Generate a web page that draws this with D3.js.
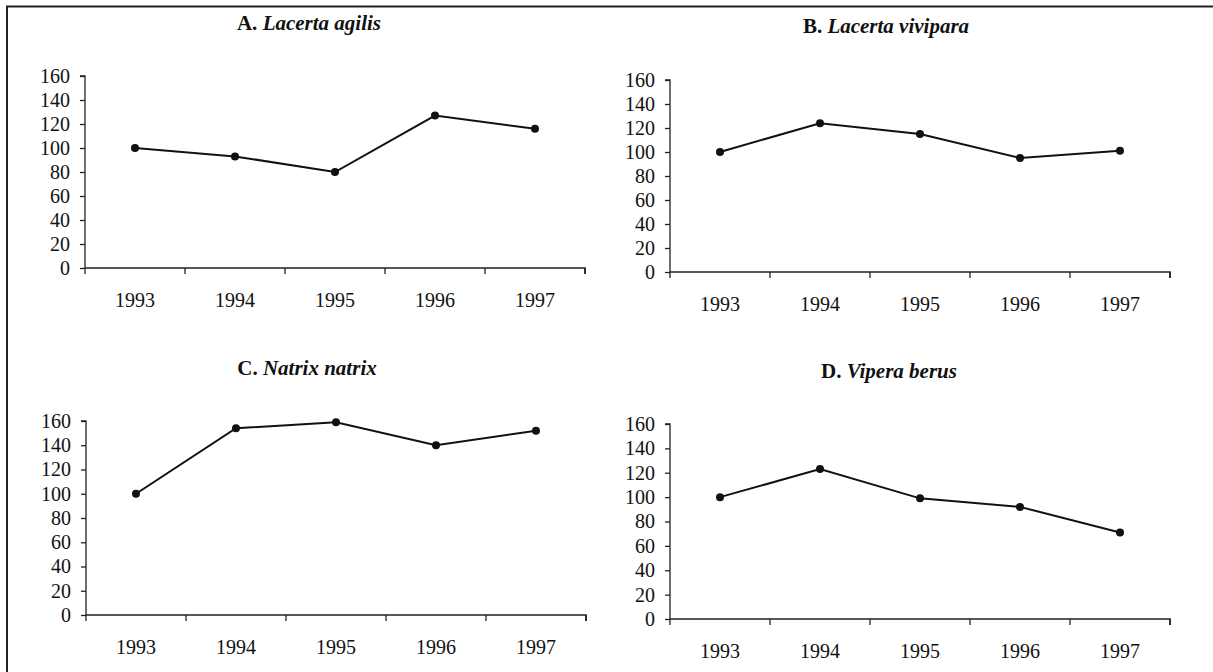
<!DOCTYPE html>
<html>
<head>
<meta charset="utf-8">
<script src="https://cdn.jsdelivr.net/npm/d3@7"></script>
<style>
  html, body { margin: 0; padding: 0; background: #fff; }
  svg { display: block; }
  text { font-family: "Liberation Serif", "Times New Roman", serif; fill: #111; }
</style>
</head>
<body>
<svg id="chart" width="1213" height="672"></svg>
<script>
// ---- data ----
const years = ["1993", "1994", "1995", "1996", "1997"];
const yTicks = [0, 20, 40, 60, 80, 100, 120, 140, 160];
const panelLetters = ["A.", "B.", "C.", "D."];
const species = ["Lacerta agilis", "Lacerta vivipara", "Natrix natrix", "Vipera berus"];
const lacertaAgilis = [100, 93, 80, 127, 116];
const lacertaVivipara = [100, 124, 115, 95, 101];
const natrixNatrix = [100, 154, 159, 140, 152];
const viperaBerus = [100, 123, 99, 92, 71];
const seriesValues = [lacertaAgilis, lacertaVivipara, natrixNatrix, viperaBerus];

// ---- layout ----
const layout = [
  { x0: 85,  x1: 585,  yTop: 76,  yBot: 268, tx: 309, ty: 30 },
  { x0: 670, x1: 1170, yTop: 80,  yBot: 272, tx: 886, ty: 33 },
  { x0: 86,  x1: 586,  yTop: 421, yBot: 615, tx: 307, ty: 375 },
  { x0: 670, x1: 1170, yTop: 424, yBot: 619, tx: 889, ty: 378 }
];
const FONT = '"Liberation Serif", "Times New Roman", serif';

const svg = d3.select("#chart");

// outer frame (left and top edges visible)
svg.append("rect")
  .attr("x", 7).attr("y", 6.5)
  .attr("width", 1260).attr("height", 720)
  .attr("fill", "none").attr("stroke", "#222").attr("stroke-width", 2);

layout.forEach((L, i) => {
  const g = svg.append("g");
  const x = d3.scaleBand().domain(years).range([L.x0, L.x1]);
  const y = d3.scaleLinear().domain([0, 160]).range([L.yBot, L.yTop]);

  // title
  const t = g.append("text")
    .attr("x", L.tx).attr("y", L.ty)
    .attr("text-anchor", "middle")
    .attr("font-size", 21).attr("font-weight", "bold");
  t.append("tspan").text(panelLetters[i] + " ");
  t.append("tspan").attr("font-style", "italic").text(species[i]);

  // y axis
  const yAxis = d3.axisLeft(y).tickValues(yTicks).tickSize(5).tickPadding(10).tickFormat(d3.format("d"));
  const yg = g.append("g").attr("transform", `translate(${L.x0},0)`).call(yAxis);
  yg.attr("font-family", FONT);
  yg.select(".domain").attr("stroke", "#222").attr("stroke-width", 1.3).attr("d", `M-5,${L.yTop}H0V${L.yBot}`);
  yg.selectAll(".tick line").attr("stroke", "#222").attr("stroke-width", 1.3);
  yg.selectAll(".tick text").attr("font-size", 20).style("font-family", FONT).attr("fill", "#111");

  // x axis
  const xAxis = d3.axisBottom(x).tickSize(0).tickPadding(25);
  const xg = g.append("g").attr("transform", `translate(0,${L.yBot})`).call(xAxis);
  xg.attr("font-family", FONT);
  xg.select(".domain").attr("stroke", "#222").attr("stroke-width", 1.7).attr("d", `M${L.x0},0H${L.x1}V6`);
  xg.selectAll(".tick text").attr("font-size", 20).style("font-family", FONT).attr("fill", "#111");
  // band boundary ticks
  const bounds = years.map(d => x(d)).concat([L.x1]);
  xg.selectAll(".bnd").data(bounds).enter().append("line")
    .attr("x1", d => d).attr("x2", d => d)
    .attr("y1", 0).attr("y2", 6)
    .attr("stroke", "#222").attr("stroke-width", 1.3);

  // line + points
  const vals = seriesValues[i];
  const line = d3.line()
    .x((d, j) => x(years[j]) + x.bandwidth() / 2)
    .y(d => y(d));
  g.append("path").datum(vals)
    .attr("d", line).attr("fill", "none")
    .attr("stroke", "#111").attr("stroke-width", 2);
  g.selectAll(".pt").data(vals).enter().append("circle")
    .attr("cx", (d, j) => x(years[j]) + x.bandwidth() / 2)
    .attr("cy", d => y(d))
    .attr("r", 4).attr("fill", "#111");
});
</script>
</body>
</html>
